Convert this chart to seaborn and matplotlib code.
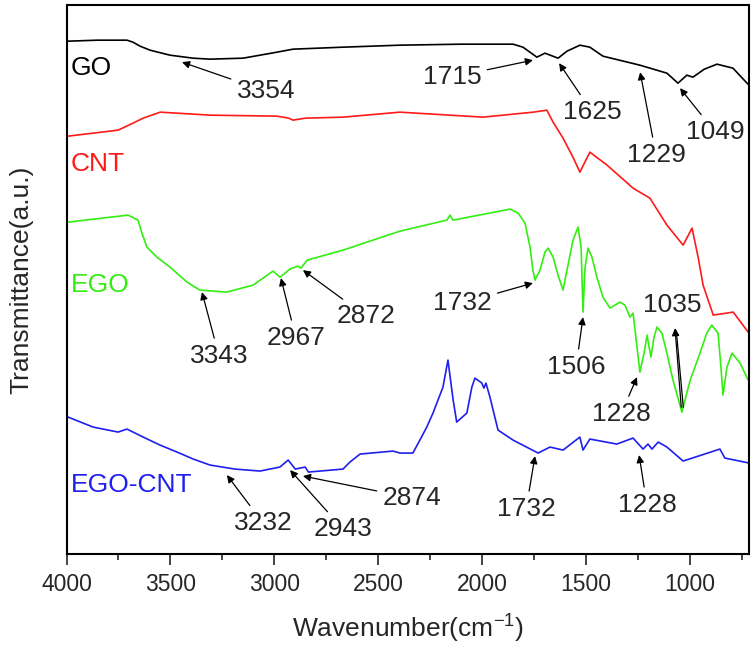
import numpy as np
import pandas as pd
import seaborn as sns
import matplotlib.pyplot as plt
from matplotlib.ticker import MultipleLocator

plt.switch_backend("Agg")

# traced spectra: wavenumber (cm-1) and transmittance (a.u., stacked)
go_wn = [3993, 3850, 3709, 3680, 3646, 3598, 3502, 3391, 3310, 3150, 2987, 2910, 2669, 2395,
         2100, 1851, 1803, 1736, 1697, 1634, 1591, 1529, 1481, 1418, 1240, 1110, 1057, 1014,
         985, 930, 869, 792, 720]
go_t = [513, 514, 514, 512, 508, 504, 499, 496, 495, 496, 502, 505, 507, 509,
        510, 510, 507, 497, 501, 496, 503, 509, 507, 498, 489, 481, 471, 479,
        477, 485, 490, 486, 470]

cnt_wn = [3993, 3872, 3752, 3690, 3631, 3549, 3309, 2987, 2930, 2910, 2850, 2669, 2395,
          1995, 1754, 1688, 1658, 1610, 1560, 1529, 1481, 1398, 1273, 1192, 1110, 1032,
          989, 959, 936, 887, 791, 719]
cnt_t = [418, 421, 424, 430, 436, 442, 439, 438, 436, 434, 436, 437, 442,
         437, 442, 444, 432, 416, 396, 382, 402, 389, 366, 356, 329, 309,
         326, 296, 269, 239, 242, 222]

ego_wn = [3993, 3704, 3656, 3637, 3613, 3565, 3502, 3420, 3358, 3229, 3102, 3006, 2972, 2925,
          2886, 2871, 2842, 2669, 2395, 2169, 2154, 2140, 1865, 1826, 1793, 1769, 1755, 1745,
          1721, 1697, 1682, 1658, 1634, 1610, 1591, 1562, 1538, 1523, 1514, 1504, 1490, 1471,
          1447, 1418, 1384, 1360, 1336, 1312, 1288, 1273, 1254, 1240, 1220, 1206, 1187,
          1172, 1158, 1134, 1110, 1081, 1038, 998, 951, 918, 894, 864, 850, 840, 821,
          797, 758, 719]
ego_t = [332, 339, 334, 321, 307, 297, 287, 272, 264, 262, 269, 283, 277, 285,
         288, 286, 294, 304, 323, 334, 339, 334, 345, 341, 331, 307, 284, 274,
         284, 302, 306, 297, 279, 264, 284, 314, 327, 307, 242, 287, 306, 297,
         277, 257, 246, 249, 252, 249, 237, 241, 207, 182, 201, 219, 197,
         217, 227, 221, 201, 174, 142, 174, 201, 221, 229, 221, 187, 159, 187,
         201, 191, 174]

egocnt_wn = [3993, 3872, 3752, 3709, 3631, 3550, 3468, 3390, 3309, 3190, 3069, 2973, 2933,
             2899, 2851, 2836, 2669, 2636, 2587, 2428, 2395, 2333, 2299, 2266, 2236, 2188,
             2164, 2139, 2122, 2073, 2049, 2034, 2001, 1991, 1981, 1962, 1923, 1851, 1730,
             1673, 1610, 1529, 1514, 1481, 1351, 1273, 1225, 1201, 1182, 1152, 1110, 1032,
             855, 831, 714]
egocnt_t = [137, 127, 122, 125, 117, 109, 102, 95, 89, 85, 83, 87, 94,
            85, 87, 82, 85, 92, 100, 103, 101, 101, 114, 127, 141, 167,
            194, 154, 132, 141, 167, 176, 171, 166, 171, 157, 124, 114, 101,
            107, 104, 117, 104, 115, 110, 116, 105, 110, 105, 112, 107, 93,
            105, 96, 91]

samples = ["GO", "CNT", "EGO", "EGO-CNT"]
colors = {"GO": "#000000", "CNT": "#ff1a1a", "EGO": "#33ee11", "EGO-CNT": "#1f1fee"}

# peak labels: text, text position (wn, T), arrow tip (wn, T)
peaks = [
    ("3354", (3040, 463), (3444, 492)),
    ("1715", (2145, 477), (1755, 494)),
    ("1625", (1470, 442), (1629, 491)),
    ("1229", (1162, 399), (1239, 482)),
    ("1049", (878, 422), (1047, 466)),
    ("3343", (3266, 198), (3348, 262)),
    ("2967", (2896, 216), (2968, 276)),
    ("2872", (2559, 238), (2862, 284)),
    ("1732", (2096, 251), (1755, 271)),
    ("1506", (1547, 187), (1514, 237)),
    ("1228", (1331, 140), (1254, 177)),
    ("3232", (3054, 31), (3228, 79)),
    ("2943", (2669, 25), (2924, 84)),
    ("2874", (2337, 56), (2862, 78)),
    ("1732", (1788, 45), (1745, 98)),
    ("1228", (1206, 49), (1244, 99)),
]
sample_labels = [("GO", 486), ("CNT", 390), ("EGO", 269), ("EGO-CNT", 69)]

frames = []
for name, wn, t in [("GO", go_wn, go_t), ("CNT", cnt_wn, cnt_t),
                    ("EGO", ego_wn, ego_t), ("EGO-CNT", egocnt_wn, egocnt_t)]:
    frames.append(pd.DataFrame({"wavenumber": wn, "transmittance": t, "sample": name}))
df = pd.concat(frames, ignore_index=True)

sns.set_style("ticks")
plt.rcParams["font.family"] = ["Liberation Sans", "DejaVu Sans"]
plt.rcParams["mathtext.fontset"] = "custom"
plt.rcParams["mathtext.rm"] = "Liberation Sans"
plt.rcParams["mathtext.it"] = "Liberation Sans:italic"

fig = plt.figure(figsize=(7.56, 6.48), dpi=100)
ax = fig.add_axes([0.088, 0.145, 0.903, 0.847])

sns.lineplot(data=df, x="wavenumber", y="transmittance", hue="sample", hue_order=samples,
             palette=colors, sort=False, estimator=None, legend=False, lw=1.2, ax=ax)

ax.set_xlim(4000, 714)
ax.set_ylim(0, 549)
ax.set_yticks([])
ax.xaxis.set_major_locator(MultipleLocator(500))
ax.xaxis.set_minor_locator(MultipleLocator(250))
ax.tick_params(axis="x", which="major", direction="out", length=8, width=1.2,
               labelsize=16.5, pad=6)
ax.tick_params(axis="x", which="minor", direction="out", length=4, width=1.2)
for s in ax.spines.values():
    s.set_linewidth(1.5)
    s.set_color("black")

ax.set_xlabel(r"Wavenumber(cm$^{\mathregular{-1}}$)", fontsize=19, labelpad=12)
ax.set_ylabel("Transmittance(a.u.)", fontsize=19, labelpad=24)

for name, y in sample_labels:
    ax.text(3979, y, name, color=colors[name], fontsize=19, ha="left", va="center")

arrow = dict(arrowstyle="-|>", color="black", lw=0.9, mutation_scale=11, shrinkA=2, shrinkB=0)
for label, txt, tip in peaks:
    ax.annotate(label, xy=tip, xytext=txt, fontsize=19, ha="center", va="center",
                arrowprops=arrow)

# 1035 label with two lines coming up from the band
ax.text(1085, 249, "1035", fontsize=19, ha="center", va="center")
ax.annotate("", xy=(1071, 226), xytext=(1040, 144), arrowprops=arrow)
ax.annotate("", xy=(1066, 226), xytext=(1030, 144),
            arrowprops=dict(arrowstyle="-", color="black", lw=0.9))

fig.savefig("out.png", dpi=100)
plt.close(fig)
